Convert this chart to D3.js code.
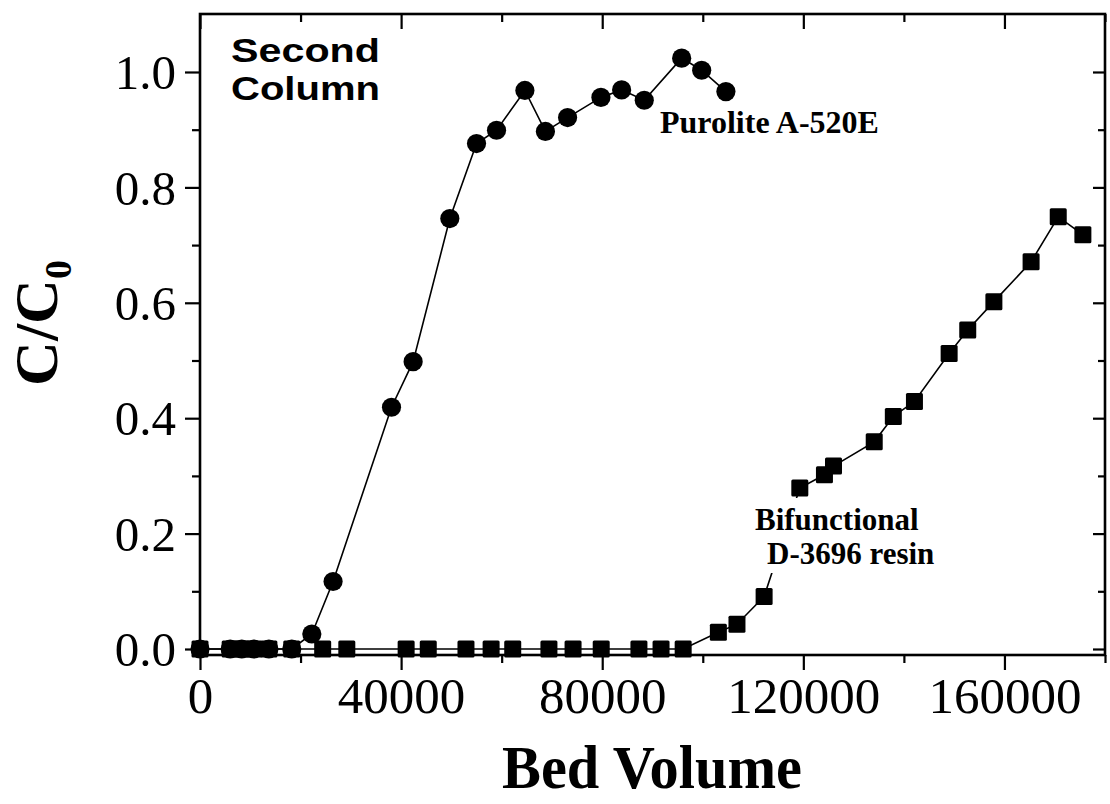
<!DOCTYPE html>
<html>
<head>
<meta charset="utf-8">
<script src="https://cdn.jsdelivr.net/npm/d3@7"></script>
<style>
  body { margin: 0; background: #fff; }
  svg { display: block; }
</style>
</head>
<body>
<div id="chart"></div>
<script>
// Purolite A-520E (circles)
const puroliteBV = [0, 6000, 8300, 10700, 13700, 18250, 22240, 26470, 38090, 42390, 49690,
    55000, 58980, 64620, 68700, 73110, 79740, 83860, 88360, 95800, 99780, 104600];
const puroliteC = [0, 0, 0, 0, 0, 0, 0.026, 0.117, 0.419, 0.498, 0.746,
    0.876, 0.899, 0.968, 0.897, 0.921, 0.956, 0.969, 0.951, 1.024, 1.003, 0.966];

// Bifunctional D-3696 resin (squares)
const bifunctionalBV = [0, 6000, 8300, 10700, 13700, 18250, 24400, 29200, 41000, 45400, 52900,
    57900, 62200, 69400, 74200, 79800, 87300, 91700, 96100, 103100, 106800, 112200,
    119300, 124200, 126000, 134100, 137900, 142100, 149000, 152700, 157900, 165300, 170700, 175600];
const bifunctionalC = [0, 0, 0, 0, 0, 0, 0, 0, 0, 0, 0,
    0, 0, 0, 0, 0, 0, 0, 0, 0.029, 0.043, 0.091,
    0.279, 0.302, 0.317, 0.359, 0.403, 0.429, 0.512, 0.553, 0.602, 0.671, 0.749, 0.718];

const xTicks = [0, 40000, 80000, 120000, 160000];
const xMinor = [20000, 60000, 100000, 140000, 180000];
const yTicks = [0, 0.2, 0.4, 0.6, 0.8, 1.0];
const yMinor = [0.1, 0.3, 0.5, 0.7, 0.9];

const width = 1110, height = 804;
const mLeft = 200, mRight = 1105, mTop = 14, mBottom = 655;

const svg = d3.select('#chart')
    .append('svg')
    .attr('width', width)
    .attr('height', height);

const x = d3.scaleLinear().domain([0, 180000]).range([mLeft, mRight]);
const y = d3.scaleLinear().domain([-0.0104, 1.1005]).range([mBottom, mTop]);

const serif = '"Liberation Serif", "Times New Roman", serif';
const sans = '"Liberation Sans", Arial, sans-serif';

// data lines
const line = d3.line().x(d => x(d[0])).y(d => y(d[1]));
const purData = puroliteBV.map((v, i) => [v, puroliteC[i]]);
const bifData = bifunctionalBV.map((v, i) => [v, bifunctionalC[i]]);

svg.append('path')
    .datum(bifData)
    .attr('d', line)
    .attr('fill', 'none')
    .attr('stroke', '#000')
    .attr('stroke-width', 1.6);

svg.append('path')
    .datum(purData)
    .attr('d', line)
    .attr('fill', 'none')
    .attr('stroke', '#000')
    .attr('stroke-width', 1.6);

// annotation label with white backing (hides the line behind it)
const bifText = svg.append('text')
    .attr('font-family', serif)
    .attr('font-weight', 'bold')
    .attr('font-size', 31)
    .attr('fill', '#000');
bifText.append('tspan').attr('x', 755).attr('y', 530).text('Bifunctional');
bifText.append('tspan').attr('x', 767).attr('y', 564).text('D-3696 resin');
const bb = bifText.node().getBBox();
svg.insert('rect', 'text')
    .attr('x', bb.x - 4)
    .attr('y', bb.y - 4)
    .attr('width', bb.width + 8)
    .attr('height', bb.height + 6)
    .attr('fill', '#fff');

// markers
svg.selectAll('rect.sq')
    .data(bifData)
    .enter()
    .append('rect')
    .attr('class', 'sq')
    .attr('x', d => x(d[0]) - 8.5)
    .attr('y', d => y(d[1]) - 8.5)
    .attr('width', 17)
    .attr('height', 17)
    .attr('rx', 1.5)
    .attr('fill', '#000');

svg.selectAll('circle.pt')
    .data(purData)
    .enter()
    .append('circle')
    .attr('class', 'pt')
    .attr('cx', d => x(d[0]))
    .attr('cy', d => y(d[1]))
    .attr('r', 9.6)
    .attr('fill', '#000');

// axes
function styleAxis(g) {
    g.select('.domain').remove();
    g.selectAll('line').attr('stroke', '#000').attr('stroke-width', 2.2);
}

const xBottom = svg.append('g')
    .attr('transform', `translate(0,${mBottom})`)
    .call(d3.axisBottom(x).tickValues(xTicks).tickSize(15).tickFormat(d3.format('d')));
styleAxis(xBottom);
xBottom.selectAll('text')
    .attr('font-family', serif)
    .attr('font-size', 51)
    .attr('fill', '#000')
    .attr('y', 58)
    .attr('dy', null);

svg.append('g')
    .attr('transform', `translate(0,${mBottom})`)
    .call(d3.axisBottom(x).tickValues(xMinor).tickSize(8).tickFormat(''))
    .call(styleAxis);

svg.append('g')
    .attr('transform', `translate(0,${mTop})`)
    .call(d3.axisTop(x).tickValues(xTicks).tickSize(-15).tickFormat(''))
    .call(styleAxis);
svg.append('g')
    .attr('transform', `translate(0,${mTop})`)
    .call(d3.axisTop(x).tickValues(xMinor).tickSize(-8).tickFormat(''))
    .call(styleAxis);

const yLeft = svg.append('g')
    .attr('transform', `translate(${mLeft},0)`)
    .call(d3.axisLeft(y).tickValues(yTicks).tickSize(15).tickFormat(d3.format('.1f')));
styleAxis(yLeft);
yLeft.selectAll('text')
    .attr('font-family', serif)
    .attr('font-size', 49)
    .attr('fill', '#000')
    .attr('text-anchor', 'end')
    .attr('x', -24)
    .attr('dy', '0.34em');

svg.append('g')
    .attr('transform', `translate(${mLeft},0)`)
    .call(d3.axisLeft(y).tickValues(yMinor).tickSize(8).tickFormat(''))
    .call(styleAxis);

svg.append('g')
    .attr('transform', `translate(${mRight},0)`)
    .call(d3.axisRight(y).tickValues(yTicks).tickSize(-12).tickFormat(''))
    .call(styleAxis);
svg.append('g')
    .attr('transform', `translate(${mRight},0)`)
    .call(d3.axisRight(y).tickValues(yMinor).tickSize(-7).tickFormat(''))
    .call(styleAxis);

// frame
svg.append('rect')
    .attr('x', mLeft)
    .attr('y', mTop)
    .attr('width', mRight - mLeft)
    .attr('height', mBottom - mTop)
    .attr('fill', 'none')
    .attr('stroke', '#000')
    .attr('stroke-width', 2.6);

// texts
svg.append('text')
    .attr('x', 660)
    .attr('y', 133)
    .attr('font-family', serif)
    .attr('font-weight', 'bold')
    .attr('font-size', 32)
    .text('Purolite A-520E');

svg.append('text')
    .attr('x', 231).attr('y', 62)
    .attr('font-family', sans)
    .attr('font-weight', 'bold')
    .attr('font-size', 34)
    .attr('textLength', 149)
    .attr('lengthAdjust', 'spacingAndGlyphs')
    .text('Second');
svg.append('text')
    .attr('x', 231).attr('y', 100)
    .attr('font-family', sans)
    .attr('font-weight', 'bold')
    .attr('font-size', 34)
    .attr('textLength', 149)
    .attr('lengthAdjust', 'spacingAndGlyphs')
    .text('Column');

svg.append('text')
    .attr('x', 652)
    .attr('y', 788)
    .attr('text-anchor', 'middle')
    .attr('font-family', serif)
    .attr('font-weight', 'bold')
    .attr('font-size', 62)
    .attr('textLength', 300)
    .attr('lengthAdjust', 'spacingAndGlyphs')
    .text('Bed Volume');

const yl = svg.append('text')
    .attr('transform', 'translate(57,323) rotate(-90)')
    .attr('text-anchor', 'middle')
    .attr('font-family', serif)
    .attr('font-weight', 'bold')
    .attr('font-size', 62);
yl.append('tspan').text('C/C');
yl.append('tspan').attr('font-size', 38).attr('dy', 14).text('0');
</script>
</body>
</html>
